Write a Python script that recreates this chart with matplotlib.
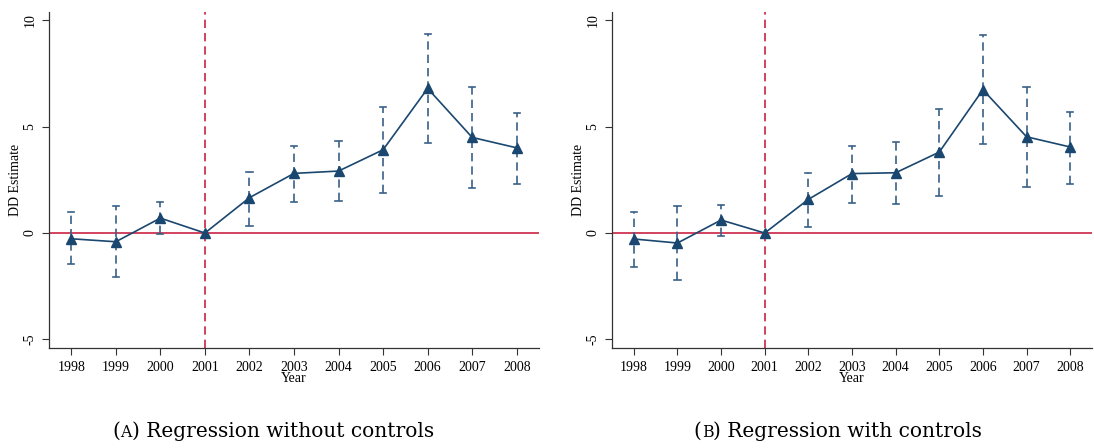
import matplotlib
matplotlib.use("Agg")
import matplotlib.pyplot as plt

years = [1998, 1999, 2000, 2001, 2002, 2003, 2004, 2005, 2006, 2007, 2008]

# Regression without controls
est_a = [-0.27, -0.41, 0.70, 0.0, 1.66, 2.80, 2.91, 3.91, 6.79, 4.49, 4.00]
lo_a = [-1.46, -2.07, -0.05, None, 0.34, 1.47, 1.52, 1.88, 4.23, 2.10, 2.29]
hi_a = [0.97, 1.27, 1.44, None, 2.86, 4.10, 4.30, 5.90, 9.33, 6.84, 5.65]

# Regression with controls
est_b = [-0.28, -0.47, 0.61, 0.0, 1.58, 2.79, 2.83, 3.80, 6.73, 4.52, 4.04]
lo_b = [-1.58, -2.21, -0.14, None, 0.27, 1.42, 1.38, 1.75, 4.18, 2.16, 2.30]
hi_b = [0.99, 1.27, 1.33, None, 2.83, 4.10, 4.27, 5.81, 9.28, 6.87, 5.70]

y_ticks = [-5, 0, 5, 10]
panel_letters = ["A", "B"]
captions = ["Regression without controls", "Regression with controls"]

NAVY = "#1a476f"
BAR = "#3a6088"
RED = "#cc2244"
SPINE = "#333333"

plt.rcParams["font.family"] = ["Liberation Serif", "DejaVu Serif"]

fig = plt.figure(figsize=(10.94, 4.48), dpi=100)
W, H = 1094, 448
renderer = fig.canvas.get_renderer()

panels = [
    (49, 539, est_a, lo_a, hi_a, 273),
    (612, 1092, est_b, lo_b, hi_b, 838),
]


def caption(cx, cy, letter, text, size=14.5):
    """Caption with a small-caps panel letter, centred at (cx, cy) px."""
    parts = [("(", size), (letter, size * 0.78), (") " + text, size)]
    widths = []
    for s, fs in parts:
        t = fig.text(0, 0, s, fontsize=fs, family=["DejaVu Serif"])
        widths.append(t.get_window_extent(renderer).width)
        t.remove()
    x = cx - sum(widths) / 2
    for (s, fs), w in zip(parts, widths):
        fig.text(x / W, cy / H, s, fontsize=fs, family=["DejaVu Serif"],
                 ha="left", va="baseline")
        x += w


for (x0, x1, est, lo, hi, tx), letter, cap in zip(panels, panel_letters, captions):
    ax = fig.add_axes([x0 / W, (H - 348) / H, (x1 - x0) / W, 336 / H])
    ax.set_xlim(1997.5, 2008.5)
    ax.set_ylim(-5.4, 10.38)

    ax.axhline(0, color=RED, lw=1.2, zorder=1)
    ax.axvline(2001, color=RED, lw=1.2, ls=(0, (5, 3)), zorder=1)

    for yr, l, h in zip(years, lo, hi):
        if l is None:
            continue
        ax.plot([yr, yr], [l, h], color=BAR, lw=1.2, ls=(0, (5, 3)), zorder=2)
        ax.plot([yr - 0.07, yr + 0.07], [h, h], color=BAR, lw=1.2, zorder=2)
        ax.plot([yr - 0.07, yr + 0.07], [l, l], color=BAR, lw=1.2, zorder=2)

    ax.plot(years, est, color=NAVY, lw=1.2, marker="^", ms=7,
            markerfacecolor=NAVY, markeredgecolor=NAVY, zorder=3)

    for s in ["top", "right"]:
        ax.spines[s].set_visible(False)
    for s in ["left", "bottom"]:
        ax.spines[s].set_color(SPINE)
        ax.spines[s].set_linewidth(0.9)

    ax.set_xticks(years)
    ax.set_xticklabels([str(y) for y in years], fontsize=10)
    ax.set_yticks(y_ticks)
    ax.set_yticklabels([str(v) for v in y_ticks], fontsize=10, rotation=90,
                       va="center")
    ax.tick_params(axis="both", direction="out", length=5, width=0.8,
                   color=SPINE, pad=4)
    ax.set_xlabel("Year", fontsize=10, labelpad=-1)
    ax.set_ylabel("DD Estimate", fontsize=10, labelpad=1)

    caption(tx, H - 437, letter, cap)

fig.savefig("out.png", dpi=100)
